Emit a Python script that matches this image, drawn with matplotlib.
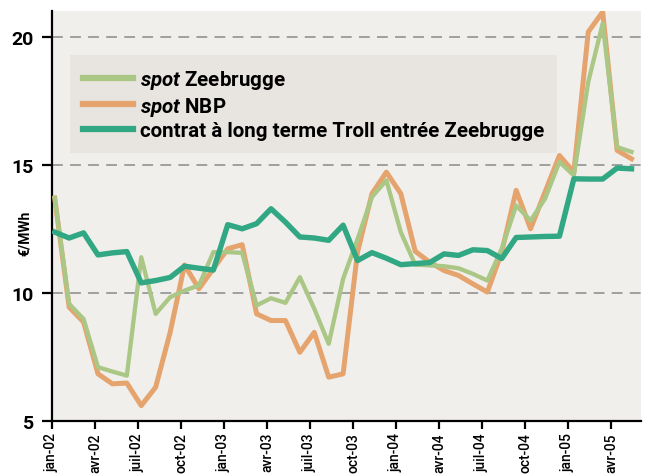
import numpy as np
import matplotlib.pyplot as plt

plt.rcParams['font.family'] = ['Roboto', 'DejaVu Sans']
plt.rcParams['mathtext.fontset'] = 'custom'
plt.rcParams['mathtext.it'] = 'Roboto:italic:bold'
plt.rcParams['mathtext.rm'] = 'Roboto:bold'

# monthly prices, jan-02 .. mai-05 (EUR/MWh)
zeebrugge = [13.70, 9.57, 8.98, 7.10, 6.93, 6.77, 11.39, 9.18, 9.83, 10.09,
             10.29, 11.59, 11.59, 11.56, 9.51, 9.79, 9.61, 10.61, 9.38, 8.01,
             10.55, 12.10, 13.74, 14.39, 12.37, 11.10, 11.07, 11.04, 10.96, 10.74,
             10.48, 11.72, 13.41, 12.82, 13.67, 15.11, 14.58, 18.23, 20.51, 15.69,
             15.50]
nbp = [13.70, 9.44, 8.86, 6.84, 6.45, 6.48, 5.60, 6.32, 8.45, 11.09,
       10.16, 10.94, 11.72, 11.88, 9.18, 8.92, 8.92, 7.68, 8.46, 6.71,
       6.84, 11.59, 13.87, 14.71, 13.87, 11.62, 11.20, 10.87, 10.68, 10.35,
       10.03, 11.59, 14.00, 12.50, 13.93, 15.36, 14.71, 20.18, 20.96, 15.56,
       15.23]
troll = [12.37, 12.14, 12.34, 11.48, 11.56, 11.61, 10.39, 10.48, 10.60, 11.04,
         10.96, 10.89, 12.66, 12.50, 12.70, 13.28, 12.76, 12.18, 12.14, 12.05,
         12.64, 11.26, 11.57, 11.35, 11.10, 11.14, 11.18, 11.52, 11.46, 11.68,
         11.65, 11.34, 12.16, 12.18, 12.20, 12.21, 14.45, 14.44, 14.44, 14.87,
         14.84]

tick_labels = ['jan-02', 'avr-02', 'juil-02', 'oct-02', 'jan-03', 'avr-03', 'juil-03',
               'oct-03', 'jan-04', 'avr-04', 'juil-04', 'oct-04', 'jan-05', 'avr-05']

months = np.arange(len(troll)) * 1.006 + 0.19

fig = plt.figure(figsize=(6.46, 4.77), dpi=100)
ax = fig.add_axes([0.0805, 0.1153, 0.9115, 0.8597])
ax.set_facecolor('#f1efec')

for y in [10, 15, 20]:
    ax.axhline(y, color='#999999', lw=1.3, linestyle=(0, (6, 4)), zorder=1)

ax.plot(months, nbp, color='#e5a46e', lw=3.6, label='$spot$ NBP', zorder=3)
ax.plot(months, zeebrugge, color='#abc786', lw=3.1, label='$spot$ Zeebrugge', zorder=4)
ax.plot(months, troll, color='#31a883', lw=3.9,
        label='contrat à long terme Troll entrée Zeebrugge', zorder=5)

ax.set_xlim(0, 41.08)
ax.set_ylim(5, 21)
ax.set_xticks(np.arange(0, 40, 3))
ax.set_xticklabels(tick_labels, rotation=90, fontsize=10, fontweight='medium')
ax.set_yticks([5, 10, 15, 20])
ax.set_yticklabels(['5', '10', '15', '20'], fontsize=14, fontweight='bold')
ax.tick_params(axis='y', length=7, width=1.6, pad=6, color='black')
ax.tick_params(axis='x', length=6, width=1.6, pad=2, color='black')

for s in ['top', 'right']:
    ax.spines[s].set_visible(False)
for s in ['left', 'bottom']:
    ax.spines[s].set_linewidth(1.6)
    ax.spines[s].set_color('black')

fig.text(0.039, 0.51, '€/MWh', rotation=90, fontsize=10, fontweight='bold',
         ha='center', va='center')

handles, labels = ax.get_legend_handles_labels()
order = [1, 0, 2]
leg = ax.legend([handles[i] for i in order], [labels[i] for i in order],
                loc='upper left', bbox_to_anchor=(0.0306, 0.892),
                prop={'weight': 'bold', 'size': 14.8}, handlelength=2.45,
                handletextpad=0.35, labelspacing=0.18, borderpad=0.62,
                fancybox=False, framealpha=1, borderaxespad=0)
leg.get_frame().set_facecolor('#e8e4df')
leg.get_frame().set_edgecolor('none')
for line in leg.get_lines():
    line.set_linewidth(4.5)

fig.savefig('out.png', dpi=100)
